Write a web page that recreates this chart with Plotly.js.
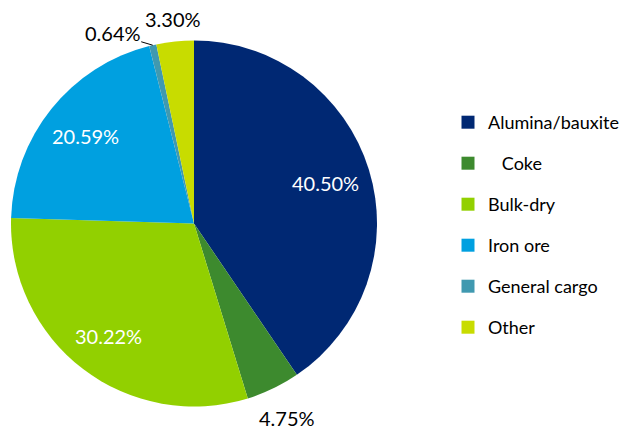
<!DOCTYPE html>
<html>
<head>
<meta charset="utf-8">
<script src="https://cdn.plot.ly/plotly-3.0.1.min.js"></script>
<style>html,body{margin:0;padding:0;background:#fff}#chart{width:631px;height:430px}</style>
</head>
<body>
<div id="chart"></div>
<script>
// ---- data ----
const categories = ["Alumina/bauxite", "\u00a0\u00a0\u00a0Coke", "Bulk-dry", "Iron ore", "General cargo", "Other"];
const shares = [40.50, 4.75, 30.22, 20.59, 0.64, 3.30];

// ---- styles ----
const colors = ["#002873", "#3d8a2e", "#92d000", "#00a0e0", "#4099b0", "#c8dc00"];
const labelRadius = [0.75, 1.18, 0.77, 0.76, 1.0, 1.125];   // fraction of pie radius
const labelColors = ["#ffffff", "#000000", "#ffffff", "#ffffff", "#000000", "#000000"];
const labelLeader = [false, false, false, false, true, false];
const FONT = "Lato, 'Open Sans', sans-serif";

const W = 631, H = 430;
const dom = {x: [11 / W, 377 / W], y: [1 - 410 / H, 1 - 37 / H]};

// pie geometry derived from the domain (same rule Plotly uses)
const dw = (dom.x[1] - dom.x[0]) * W, dh = (dom.y[1] - dom.y[0]) * H;
const R = Math.min(dw, dh) / 2;
const cx = (dom.x[0] + dom.x[1]) / 2 * W;
const cy = (1 - (dom.y[0] + dom.y[1]) / 2) * H;
const total = shares.reduce((a, b) => a + b, 0);

// labels placed on a hidden pixel-scaled axis pair (x: 0..W, y: 0..H top-down)
const annotations = [];
let cum = 0;
shares.forEach((v, i) => {
  const mid = (cum + v / 2) / total * 2 * Math.PI; // clockwise from 12 o'clock
  cum += v;
  const f = labelRadius[i];
  const ann = {
    x: cx + f * R * Math.sin(mid),
    y: cy - f * R * Math.cos(mid),
    xref: "x", yref: "y",
    text: v.toFixed(2) + "%",
    font: {family: FONT, size: 20, color: labelColors[i]},
    borderpad: 0,
    showarrow: false
  };
  if (labelLeader[i]) {
    Object.assign(ann, {showarrow: true, arrowhead: 0, arrowwidth: 1, arrowcolor: "#000000",
                        ax: -40, ay: -12, standoff: 0, startstandoff: 0});
  }
  annotations.push(ann);
});

const data = [{
  type: "pie",
  labels: categories,
  values: shares,
  sort: false,
  direction: "clockwise",
  rotation: 0,
  marker: {colors: colors, line: {width: 0}},
  textinfo: "none",
  automargin: false,
  hoverinfo: "none",
  showlegend: false,
  domain: dom
}];
// legend entries, one per category (no visible points)
categories.forEach((c, i) => {
  data.push({
    type: "scatter", mode: "markers", x: [null], y: [null],
    name: c, legendgroup: "g" + i, showlegend: true,
    marker: {symbol: "square", size: 13, color: colors[i], line: {width: 0}},
    hoverinfo: "none"
  });
});

const layout = {
  width: W, height: H,
  margin: {l: 0, r: 0, t: 0, b: 0},
  paper_bgcolor: "#ffffff",
  plot_bgcolor: "rgba(0,0,0,0)",
  font: {family: FONT, size: 18, color: "#000000"},
  xaxis: {visible: false, domain: [0, 1], range: [0, W], fixedrange: true},
  yaxis: {visible: false, domain: [0, 1], range: [H, 0], fixedrange: true},
  showlegend: true,
  annotations: annotations,
  legend: {
    x: 448 / W, xanchor: "left",
    y: 1 - 104 / H, yanchor: "top",
    font: {family: FONT, size: 18, color: "#000000"},
    traceorder: "grouped",
    tracegroupgap: 14.6,
    itemwidth: 30,
    bgcolor: "rgba(0,0,0,0)"
  }
};
Plotly.newPlot("chart", data, layout, {displayModeBar: false, staticPlot: true});
</script>
</body>
</html>
